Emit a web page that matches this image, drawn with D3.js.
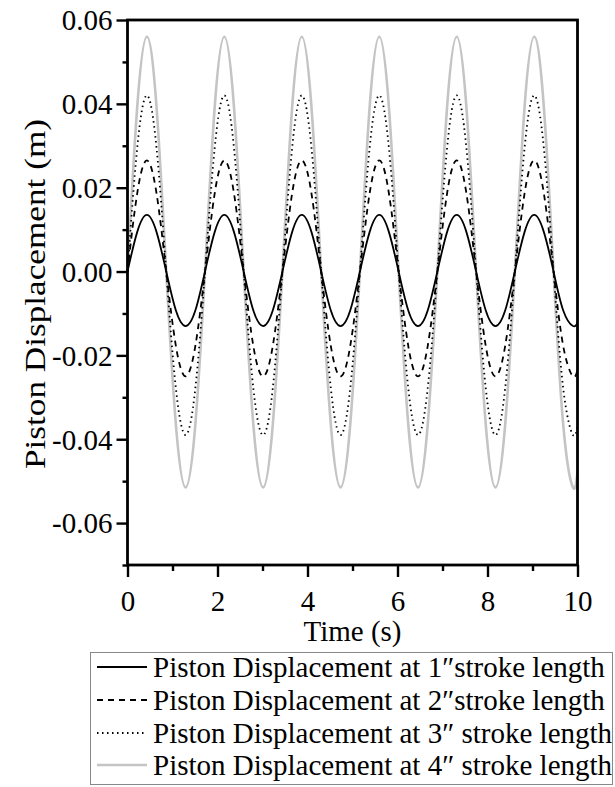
<!DOCTYPE html>
<html><head><meta charset="utf-8">
<script src="https://cdn.jsdelivr.net/npm/d3@7"></script>
<style>body{margin:0;background:#fff}svg{display:block}text{font-family:"Liberation Serif","Times New Roman",serif;fill:#000}</style>
</head><body><svg id="c" width="615" height="787"></svg>
<script>
// time samples (s)
const time = [0,0.215,0.430,0.646,0.861,1.076,1.291,1.507,1.722,1.937,2.152,2.367,2.582,2.797,3.013,3.228,3.443,3.658,3.873,4.089,4.304,4.519,4.734,4.949,5.165,5.380,5.595,5.810,6.025,6.240,6.456,6.671,6.886,7.101,7.316,7.532,7.747,7.962,8.177,8.392,8.608,8.823,9.038,9.253,9.468,9.683,9.899,10.0];
// values read at each time sample (m)
const stroke1 = [0,0.0094,0.0135,0.0094,0,-0.0093,-0.013,-0.0093,0,0.0094,0.0135,0.0094,0,-0.0093,-0.013,-0.0093,0,0.0094,0.0135,0.0094,0,-0.0093,-0.013,-0.0093,0,0.0094,0.0135,0.0094,0,-0.0093,-0.013,-0.0093,0,0.0094,0.0135,0.0094,0,-0.0093,-0.013,-0.0093,0,0.0094,0.0135,0.0094,0,-0.0093,-0.013,-0.0122];
const stroke2 = [0,0.0186,0.0265,0.0186,0,-0.0178,-0.025,-0.0178,0,0.0186,0.0265,0.0186,0,-0.0178,-0.025,-0.0178,0,0.0186,0.0265,0.0186,0,-0.0178,-0.025,-0.0178,0,0.0186,0.0265,0.0186,0,-0.0178,-0.025,-0.0178,0,0.0186,0.0265,0.0186,0,-0.0178,-0.025,-0.0178,0,0.0186,0.0265,0.0186,0,-0.0178,-0.025,-0.0234];
const stroke3 = [0,0.0294,0.042,0.0294,0,-0.0279,-0.039,-0.0279,0,0.0294,0.042,0.0294,0,-0.0279,-0.039,-0.0279,0,0.0294,0.042,0.0294,0,-0.0279,-0.039,-0.0279,0,0.0294,0.042,0.0294,0,-0.0279,-0.039,-0.0279,0,0.0294,0.042,0.0294,0,-0.0279,-0.039,-0.0279,0,0.0294,0.042,0.0294,0,-0.0279,-0.039,-0.0365];
const stroke4 = [0,0.0391,0.056,0.0391,0,-0.0366,-0.0515,-0.0366,0,0.0391,0.056,0.0391,0,-0.0366,-0.0515,-0.0366,0,0.0391,0.056,0.0391,0,-0.0366,-0.0515,-0.0366,0,0.0391,0.056,0.0391,0,-0.0366,-0.0515,-0.0366,0,0.0391,0.056,0.0391,0,-0.0366,-0.0515,-0.0366,0,0.0391,0.056,0.0391,0,-0.0366,-0.0515,-0.0478];
const legendLabels = ["Piston Displacement at 1\u2033stroke length","Piston Displacement at 2\u2033stroke length","Piston Displacement at 3\u2033 stroke length","Piston Displacement at 4\u2033 stroke length"];
const xTicks = [0,2,4,6,8,10];
const xMinor = [1,3,5,7,9];
const yTicks = [0.06,0.04,0.02,0.00,-0.02,-0.04,-0.06];
const yMinor = [0.05,0.03,0.01,-0.01,-0.03,-0.05,-0.07];

const styles = [
  {color:"#000", width:1.8, dash:null},
  {color:"#000", width:1.8, dash:"6,5"},
  {color:"#000", width:1.8, dash:"1.5,3.5"},
  {color:"#c4c4c4", width:2.6, dash:null}
];
const series = [stroke1, stroke2, stroke3, stroke4];

const svg = d3.select("#c");
const L=127.5, R=577.5, T=20, B=565;
const x = d3.scaleLinear().domain([0,10]).range([L,R]);
const y = d3.scaleLinear().domain([-0.07,0.06]).range([B,T]);

const line = d3.line().x((d,i)=>x(time[i])).y(d=>y(d)).curve(d3.curveNatural);
const g = svg.append("g");
[3,2,1,0].forEach(k=>{
  g.append("path").attr("d", line(series[k])).attr("fill","none")
   .attr("stroke",styles[k].color).attr("stroke-width",styles[k].width)
   .attr("stroke-dasharray",styles[k].dash);
});

// frame
svg.append("rect").attr("x",L).attr("y",T).attr("width",R-L).attr("height",B-T)
  .attr("fill","none").attr("stroke","#000").attr("stroke-width",2.8);

// x axis
const xa = svg.append("g").attr("transform",`translate(0,${B})`)
  .call(d3.axisBottom(x).tickValues(xTicks).tickSize(12).tickFormat(d3.format("d")));
svg.append("g").attr("transform",`translate(0,${B})`)
  .call(d3.axisBottom(x).tickValues(xMinor).tickSize(6).tickFormat(""))
  .call(s=>s.select(".domain").remove()).selectAll("line").attr("stroke-width",2.4);
xa.select(".domain").remove();
xa.selectAll("line").attr("stroke-width",2.4);
xa.selectAll("text").attr("font-size",29).attr("dy",null).attr("y",46);

// y axis
const ya = svg.append("g").attr("transform",`translate(${L},0)`)
  .call(d3.axisLeft(y).tickValues(yTicks).tickSize(11).tickFormat(d3.format(".2f")));
svg.append("g").attr("transform",`translate(${L},0)`)
  .call(d3.axisLeft(y).tickValues(yMinor).tickSize(5).tickFormat(""))
  .call(s=>s.select(".domain").remove()).selectAll("line").attr("stroke-width",2.4);
ya.select(".domain").remove();
ya.selectAll("line").attr("stroke-width",2.4);
ya.selectAll("text").attr("font-size",29).attr("x",-15).attr("dy","0.34em").text(d=>d3.format(".2f")(d).replace("\u2212","-"));
svg.selectAll(".tick text").attr("font-family",'"Liberation Serif","Times New Roman",serif').attr("fill","#000");

// titles
svg.append("text").attr("x",(L+R)/2).attr("y",641).attr("text-anchor","middle").attr("font-size",29).text("Time (s)");
svg.append("text").attr("transform","translate(45,294) rotate(-90)").attr("text-anchor","middle").attr("font-size",30)
  .attr("textLength",350).attr("lengthAdjust","spacingAndGlyphs").text("Piston Displacement (m)");

// legend
svg.append("rect").attr("x",90.5).attr("y",652.5).attr("width",522).attr("height",132).attr("fill","none").attr("stroke","#888").attr("stroke-width",1);
const rowY = [667,700,733,765];
legendLabels.forEach((lab,k)=>{
  svg.append("line").attr("x1",97).attr("x2",147).attr("y1",rowY[k]).attr("y2",rowY[k])
    .attr("stroke",styles[k].color).attr("stroke-width",styles[k].width).attr("stroke-dasharray",styles[k].dash);
  svg.append("text").attr("x",153).attr("y",rowY[k]+10).attr("font-size",29).text(lab);
});
</script></body></html>
